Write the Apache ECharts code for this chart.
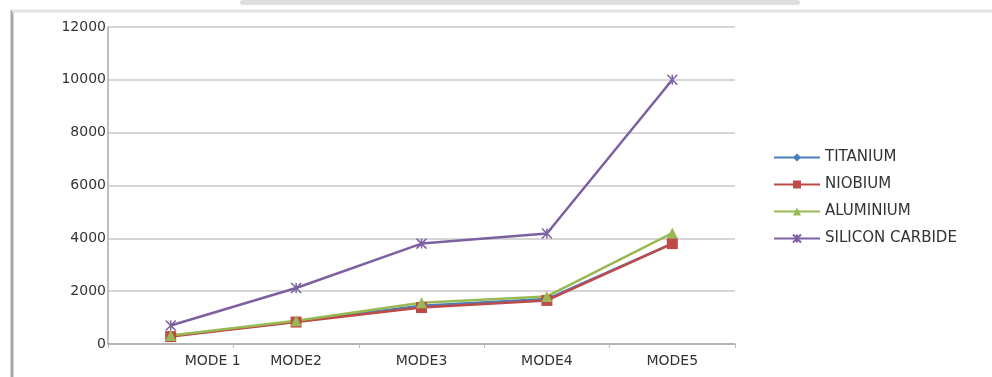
<!DOCTYPE html>
<html>
<head>
<meta charset="utf-8">
<script src="https://cdn.jsdelivr.net/npm/echarts@6/dist/echarts.min.js"></script>
<style>
  html, body { margin: 0; padding: 0; background: #fff; }
  #chart { width: 992px; height: 377px; }
</style>
</head>
<body>
<div id="chart"></div>
<script>
var modes = ['MODE 1', 'MODE2', 'MODE3', 'MODE4', 'MODE5'];
var titanium = [300, 850, 1450, 1700, 3800];
var niobium = [280, 830, 1380, 1650, 3800];
var aluminium = [320, 880, 1560, 1800, 4200];
var siliconCarbide = [700, 2120, 3800, 4180, 10000];
var yTicks = [0, 2000, 4000, 6000, 8000, 10000, 12000];

var chart = echarts.init(document.getElementById('chart'));

var font = 'DejaVu Sans';
var crossPath = 'path://M0,0L10,10M10,0L0,10M5,0L5,10';

function line(name, data, color, symbol, size) {
  return {
    name: name,
    type: 'line',
    data: data,
    symbol: symbol,
    symbolSize: size,
    showSymbol: true,
    lineStyle: { color: color, width: 2.5 },
    itemStyle: { color: color, borderColor: color, borderWidth: symbol === crossPath ? 1.5 : 0 },
    emphasis: { disabled: true }
  };
}

var option = {
  animation: false,
  backgroundColor: '#fff',
  grid: { left: 108, right: 257, top: 27, bottom: 33 },
  legend: {
    orient: 'vertical',
    left: 768,
    top: 145,
    itemGap: 12,
    itemWidth: 46,
    itemHeight: 10,
    textStyle: { fontFamily: font, fontSize: 15, color: '#333' },
    data: ['TITANIUM', 'NIOBIUM', 'ALUMINIUM', 'SILICON CARBIDE']
  },
  xAxis: {
    type: 'category',
    data: modes,
    boundaryGap: true,
    axisLine: { lineStyle: { color: '#aaa', width: 1.5 } },
    axisTick: { show: true, length: 4, lineStyle: { color: '#bbb' } },
    axisLabel: {
      margin: 10,
      interval: 0,
      fontFamily: font,
      fontSize: 14,
      color: '#333',
      formatter: function (v, i) {
        return i === 0 ? '{first|' + v + '}' : v;
      },
      rich: {
        first: { fontFamily: font, fontSize: 14, color: '#333', padding: [0, 0, 0, 84] }
      }
    }
  },
  yAxis: {
    type: 'value',
    min: yTicks[0],
    max: yTicks[yTicks.length - 1],
    interval: 2000,
    axisLine: { show: true, lineStyle: { color: '#aaa', width: 1.5 } },
    axisTick: { show: false },
    axisLabel: {
      margin: 2,
      fontFamily: font,
      fontSize: 14,
      color: '#333',
      formatter: function (v) { return String(v); }
    },
    splitLine: { lineStyle: { color: '#c8c8c8', width: 1.5 } }
  },
  graphic: [
    { type: 'line', shape: { x1: 12, y1: 10, x2: 12, y2: 377 }, style: { stroke: '#a8a8a8', lineWidth: 3 } },
    { type: 'line', shape: { x1: 12, y1: 11, x2: 992, y2: 11 }, style: { stroke: '#e4e4e4', lineWidth: 3 } },
    { type: 'rect', shape: { x: 240, y: 0, width: 560, height: 5, r: 3 }, style: { fill: '#dedede' } }
  ],
  series: [
    line('TITANIUM', titanium, '#4a7ebb', 'diamond', 8),
    line('NIOBIUM', niobium, '#be4b48', 'rect', 11),
    line('ALUMINIUM', aluminium, '#98b954', 'triangle', 11),
    line('SILICON CARBIDE', siliconCarbide, '#7d60a0', crossPath, 10)
  ]
};

chart.setOption(option);
</script>
</body>
</html>
